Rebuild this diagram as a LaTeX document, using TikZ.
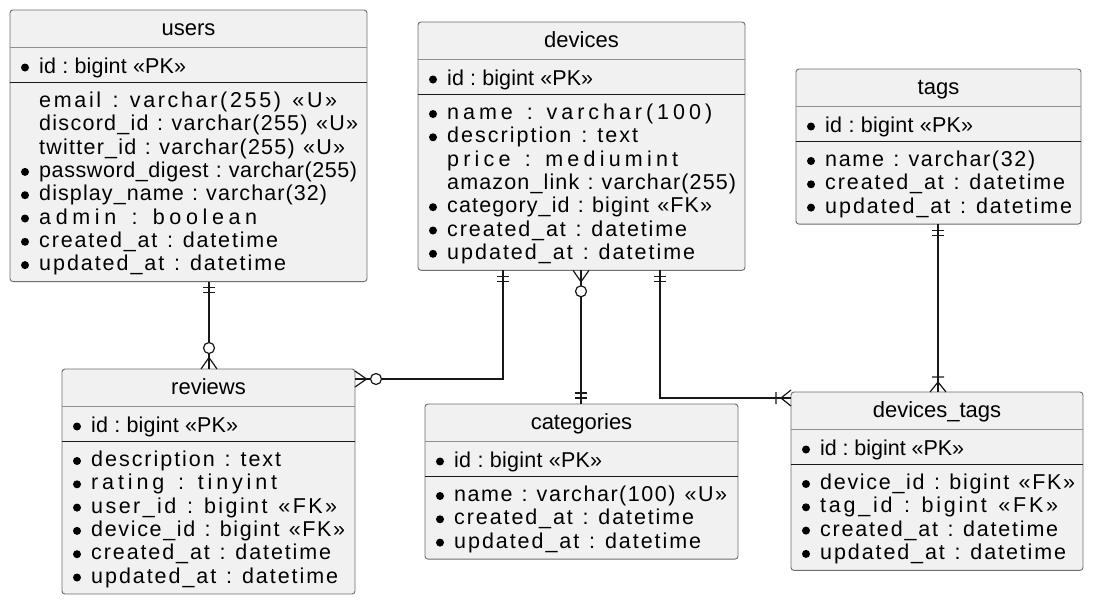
\documentclass[tikz,border=0pt]{standalone}
\usepackage{fontspec}
\setmainfont{Liberation Sans}
\usetikzlibrary{calc}
\definecolor{boxfill}{HTML}{F1F1F1}
\definecolor{ink}{HTML}{181818}
\definecolor{boxline}{HTML}{6E6E6E}
\definecolor{sepgray}{HTML}{8F8F8F}
\makeatletter
\newcommand\spreadline[2]{\hbox to #1pt{\@tfor\spr@tok:=#2\do{\spr@tok\hfil}\unskip}}
\makeatother
\newcommand\us{\char"5F\relax}
\tikzset{
  tablebox/.style={draw=boxline,fill=boxfill,line width=0.9pt,rounded corners=3pt,inner sep=0pt,outer sep=0pt},
  titletext/.style={anchor=base,inner sep=0pt,font=\fontsize{22}{24}\selectfont},
  rowtext/.style={anchor=base west,inner sep=0pt,font=\fontsize{21.5}{24}\selectfont},
  sepA/.style={draw=sepgray,line width=0.9pt},
  sepB/.style={draw=ink,line width=1.3pt},
  conn/.style={draw=ink,line width=1.2pt},
  awaydown/.style={x={(0pt,-1pt)},y={(1pt,0pt)}},
  awayup/.style={x={(0pt,1pt)},y={(1pt,0pt)}},
  awayright/.style={x={(1pt,0pt)},y={(0pt,1pt)}},
  awayleft/.style={x={(-1pt,0pt)},y={(0pt,1pt)}},
}
% table: name, left, top, right, number of body rows, title
\newcommand\etable[6]{%
  \def\tN{#1}\def\tL{#2}\def\tT{#3}%
  \pgfmathsetmacro\tblW{#4-#2}%
  \pgfmathsetmacro\tblH{97.5+(#5-1)*23.3+11}%
  \node[tablebox,minimum width=\tblW pt,minimum height=\tblH pt,anchor=north west] (#1) at (#2,#3) {};
  \node[titletext] (#1-title) at ($(#1.north)+(0,25)$) {#6};
  \draw[sepA] ($(#1.north west)+(0,37.5)$) -- ($(#1.north east)+(0,37.5)$);
  \draw[sepB] ($(#1.north west)+(0,72.5)$) -- ($(#1.north east)+(0,72.5)$);
}
\newcommand\idrow[2]{%
  \pgfmathsetmacro\rY{\tT+63}%
  \pgfmathsetmacro\rW{#1-\tL-29}%
  \fill[black] (\tL+15,\rY-5.5) circle[radius=4pt];
  \node[rowtext] (\tN-id) at (\tL+29,\rY) {\spreadline{\rW}{#2}};
}
\newcommand\erow[4]{%
  \pgfmathsetmacro\rY{\tT+97.5+#1*23.3}%
  \pgfmathsetmacro\rW{#3-\tL-29}%
  \ifnum#2=1 \fill[black] (\tL+15,\rY-5.5) circle[radius=4pt];\fi
  \node[rowtext] (\tN-r#1) at (\tL+29,\rY) {\spreadline{\rW}{#4}};
}
\newcommand\symone[2]{\begin{scope}[shift={#1},#2]\draw[conn] (6,-6)--(6,6) (11,-6)--(11,6);\end{scope}}
\newcommand\symzm[2]{\begin{scope}[shift={#1},#2]\draw[conn] (0,-8)--(11.5,0)--(0,8); \draw[conn,fill=white] (21,0) circle[radius=5.5pt];\end{scope}}
\newcommand\symom[2]{\begin{scope}[shift={#1},#2]\draw[conn] (0,-8)--(10,0)--(0,8) (15,-6)--(15,6);\end{scope}}
\begin{document}
\begin{tikzpicture}[x=1pt,y=-1pt]
\useasboundingbox[fill=white] (0,0) rectangle (1094,603);

% users
\etable{users}{10}{10}{367}{8}{users}
\idrow{186}{id~:~bigint~«PK»}
\erow{0}{0}{337}{email~:~varchar(255)~«U»}
\erow{1}{0}{358}{discord\us id~:~varchar(255)~«U»}
\erow{2}{0}{345}{twitter\us id~:~varchar(255)~«U»}
\erow{3}{1}{357}{password\us digest~:~varchar(255)}
\erow{4}{1}{327}{display\us name~:~varchar(32)}
\erow{5}{1}{257}{admin~:~boolean}
\erow{6}{1}{278}{created\us at~:~datetime}
\erow{7}{1}{286}{updated\us at~:~datetime}

% devices
\etable{devices}{418}{22}{745}{7}{devices}
\idrow{593}{id~:~bigint~«PK»}
\erow{0}{1}{712}{name~:~varchar(100)}
\erow{1}{1}{638}{description~:~text}
\erow{2}{0}{678}{price~:~mediumint}
\erow{3}{0}{736}{amazon\us link~:~varchar(255)}
\erow{4}{1}{712}{category\us id~:~bigint~«FK»}
\erow{5}{1}{687}{created\us at~:~datetime}
\erow{6}{1}{695}{updated\us at~:~datetime}

% tags
\etable{tags}{796}{69}{1081}{3}{tags}
\idrow{973}{id~:~bigint~«PK»}
\erow{0}{1}{1035}{name~:~varchar(32)}
\erow{1}{1}{1065}{created\us at~:~datetime}
\erow{2}{1}{1072}{updated\us at~:~datetime}

% reviews
\etable{reviews}{62}{369}{355}{6}{reviews}
\idrow{238}{id~:~bigint~«PK»}
\erow{0}{1}{281}{description~:~text}
\erow{1}{1}{277}{rating~:~tinyint}
\erow{2}{1}{337}{user\us id~:~bigint~«FK»}
\erow{3}{1}{345}{device\us id~:~bigint~«FK»}
\erow{4}{1}{331}{created\us at~:~datetime}
\erow{5}{1}{338}{updated\us at~:~datetime}

% categories
\etable{categories}{425}{404}{738}{3}{categories}
\idrow{602}{id~:~bigint~«PK»}
\erow{0}{1}{727}{name~:~varchar(100)~«U»}
\erow{1}{1}{694}{created\us at~:~datetime}
\erow{2}{1}{701}{updated\us at~:~datetime}

% devices_tags
\etable{devtags}{791}{392}{1083}{4}{devices\us tags}
\idrow{964}{id~:~bigint~«PK»}
\erow{0}{1}{1075}{device\us id~:~bigint~«FK»}
\erow{1}{1}{1058}{tag\us id~:~bigint~«FK»}
\erow{2}{1}{1058}{created\us at~:~datetime}
\erow{3}{1}{1066}{updated\us at~:~datetime}

% connector routing coordinates
\coordinate (c1) at (209,0);
\coordinate (c2) at (503,379);
\coordinate (c3) at (581,0);
\coordinate (c4) at (660,398);
\coordinate (c5) at (938,0);

\coordinate (e1a) at (users.south -| c1);
\coordinate (e1b) at (reviews.north -| c1);
\coordinate (e2a) at (devices.south -| c2);
\coordinate (e2b) at (reviews.east |- c2);
\coordinate (e3a) at (devices.south -| c3);
\coordinate (e3b) at (categories.north -| c3);
\coordinate (e4a) at (devices.south -| c4);
\coordinate (e4b) at (devtags.west |- c4);
\coordinate (e5a) at (tags.south -| c5);
\coordinate (e5b) at (devtags.north -| c5);

\draw[conn] (e1a) -- (e1b);
\draw[conn] (e2a) |- (e2b);
\draw[conn] (e3a) -- (e3b);
\draw[conn] (e4a) |- (e4b);
\draw[conn] (e5a) -- (e5b);

\symone{(e1a)}{awaydown}
\symzm{(e1b)}{awayup}
\symone{(e2a)}{awaydown}
\symzm{(e2b)}{awayright}
\symzm{(e3a)}{awaydown}
\symone{(e3b)}{awayup}
\symone{(e4a)}{awaydown}
\symom{(e4b)}{awayleft}
\symone{(e5a)}{awaydown}
\symom{(e5b)}{awayup}
\end{tikzpicture}
\end{document}
